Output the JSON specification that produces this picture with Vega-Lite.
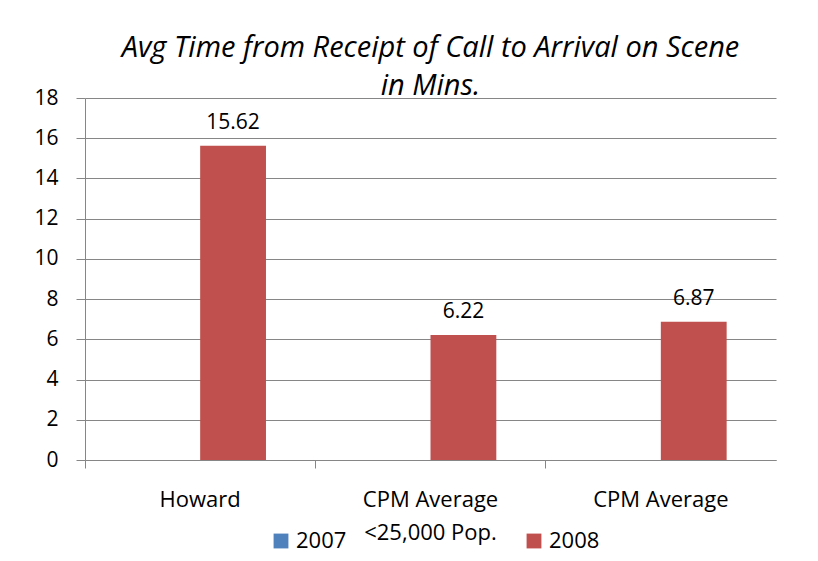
{
  "$schema": "https://vega.github.io/schema/vega-lite/v6.json",
  "width": 691,
  "height": 362,
  "autosize": {"type": "none"},
  "padding": {"left": 85, "top": 98, "right": 42, "bottom": 101},
  "background": "white",
  "title": {
    "text": ["Avg Time from Receipt of Call to Arrival on Scene", "in Mins."],
    "fontSize": 29,
    "fontStyle": "italic",
    "fontWeight": "normal",
    "font": "Open Sans",
    "color": "#000000",
    "lineHeight": 38,
    "anchor": "middle",
    "offset": -14
  },
  "data": {
    "values": [
      {"location": "Howard", "year": "2008", "minutes": 15.62},
      {"location": "CPM Average <25,000 Pop.", "year": "2008", "minutes": 6.22},
      {"location": "CPM Average", "year": "2008", "minutes": 6.87}
    ]
  },
  "encoding": {
    "x": {
      "field": "location",
      "type": "nominal",
      "sort": ["Howard", "CPM Average <25,000 Pop.", "CPM Average"],
      "scale": {"paddingInner": 0, "paddingOuter": 0},
      "axis": {
        "title": null,
        "labelAngle": 0,
        "labelFontSize": 22,
        "labelFont": "Open Sans",
        "labelColor": "#000000",
        "labelLineHeight": 33,
        "labelPadding": 21,
        "labelBaseline": "top",
        "bandPosition": 0,
        "tickSize": 8,
        "tickColor": "#868686",
        "domainColor": "#868686",
        "grid": false,
        "labelExpr": "datum.value == 'CPM Average <25,000 Pop.' ? ['CPM Average', '<25,000 Pop.'] : datum.value"
      }
    },
    "xOffset": {
      "field": "year",
      "type": "nominal",
      "scale": {"domain": ["2007", "2008"], "paddingOuter": 0.75, "paddingInner": 0}
    },
    "y": {
      "field": "minutes",
      "type": "quantitative",
      "scale": {"domain": [0, 18]},
      "axis": {
        "title": null,
        "values": [0, 2, 4, 6, 8, 10, 12, 14, 16, 18],
        "labelFontSize": 21,
        "labelFont": "Open Sans",
        "labelColor": "#000000",
        "labelPadding": 18,
        "tickSize": 9,
        "tickColor": "#868686",
        "domainColor": "#868686",
        "gridColor": "#868686",
        "gridWidth": 1
      }
    }
  },
  "layer": [
    {
      "mark": {"type": "bar"},
      "encoding": {
        "color": {
          "field": "year",
          "type": "nominal",
          "scale": {"domain": ["2007", "2008"], "range": ["#4F81BD", "#C0504D"]},
          "legend": {
            "title": null,
            "orient": "none",
            "direction": "horizontal",
            "legendX": 185,
            "legendY": 432,
            "symbolType": "square",
            "symbolSize": 220,
            "symbolStrokeWidth": 0,
            "labelFontSize": 22,
            "labelFont": "Open Sans",
            "labelColor": "#000000",
            "labelOffset": 4,
            "columnPadding": 176
          }
        }
      }
    },
    {
      "mark": {"type": "text", "dy": -23, "fontSize": 21, "font": "Open Sans", "color": "#000000"},
      "encoding": {
        "text": {"field": "minutes", "type": "quantitative", "format": ".2f"}
      }
    }
  ],
  "config": {"view": {"stroke": null}}
}
